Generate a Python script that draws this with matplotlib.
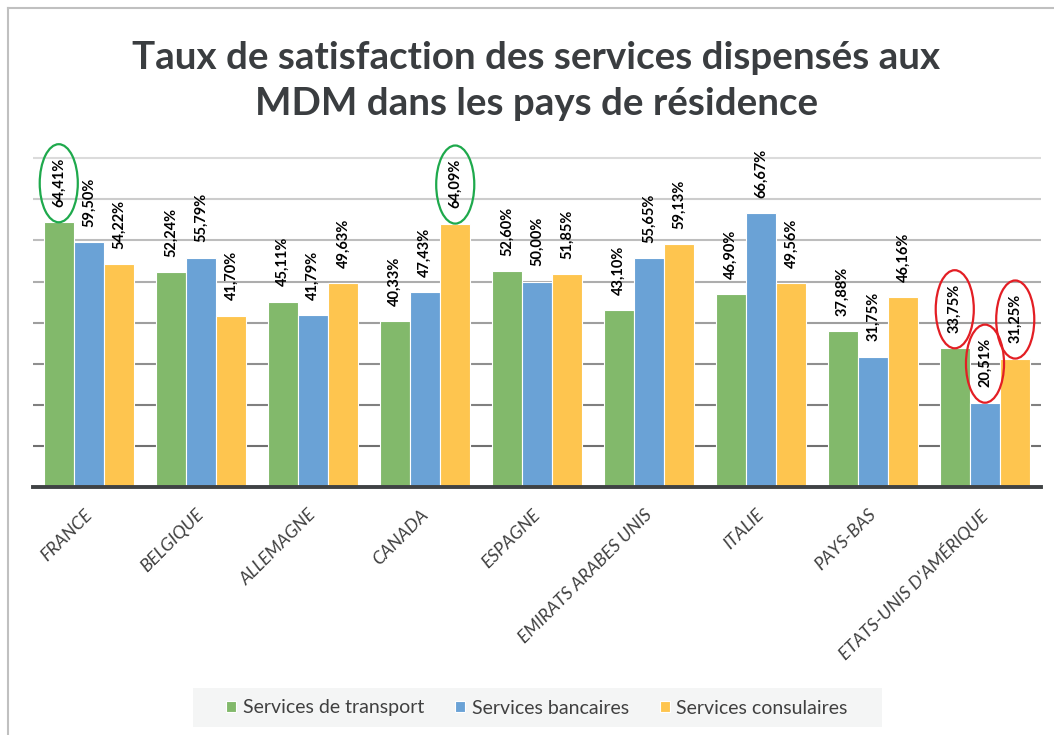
import matplotlib
matplotlib.use('Agg')
import matplotlib.pyplot as plt
from matplotlib.patches import Ellipse, Rectangle
from matplotlib.lines import Line2D
from matplotlib.transforms import ScaledTranslation
import numpy as np

# données
pays = ['FRANCE', 'BELGIQUE', 'ALLEMAGNE', 'CANADA', 'ESPAGNE',
        'EMIRATS ARABES UNIS', 'ITALIE', 'PAYS-BAS', "ETATS-UNIS D'AMÉRIQUE"]
transport = [64.41, 52.24, 45.11, 40.33, 52.60, 43.10, 46.90, 37.88, 33.75]
bancaires = [59.50, 55.79, 41.79, 47.43, 50.00, 55.65, 66.67, 31.75, 20.51]
consulaires = [54.22, 41.70, 49.63, 64.09, 51.85, 59.13, 49.56, 46.16, 31.25]
series = ['Services de transport', 'Services bancaires', 'Services consulaires']

# valeurs entourées (série, pays)
cercles_verts = [(0, 0), (2, 3)]
cercles_rouges = [(0, 8), (1, 8), (2, 8)]

couleurs = ['#82b96b', '#6aa2d6', '#fec54f']

plt.rcParams['font.family'] = ['Lato', 'DejaVu Sans']

fig = plt.figure(figsize=(10.54, 7.35), dpi=100)
ax = fig.add_axes([33 / 1054, 1 - 487 / 735, 1008 / 1054, 337 / 735])

x = np.arange(len(pays))
w = 0.27
donnees = [transport, bancaires, consulaires]

# lignes de quadrillage (plus foncées vers le bas)
for k, g in enumerate(range(10, 90, 10)):
    c = 0.44 + 0.42 * k / 7
    ax.axhline(g, color=(c, c, c), lw=1.5, zorder=0)

for i, vals in enumerate(donnees):
    xs = x + (i - 1) * w
    ax.bar(xs, vals, w, color=couleurs[i], edgecolor='white', linewidth=0.8,
           zorder=2, label=series[i])
    for a, b in zip(xs, vals):
        ax.annotate(('%.2f%%' % b).replace('.', ','), (a, b), xytext=(0, 11),
                    textcoords='offset points', rotation=90, ha='center',
                    va='bottom', fontsize=10.5, fontweight='bold', color='black')

for liste, col in [(cercles_verts, '#1ea94c'), (cercles_rouges, '#e31e24')]:
    for s, p in liste:
        v = donnees[s][p]
        e = Ellipse((p + (s - 1) * w, v + 9.5), 0.34, 19, fill=False,
                    edgecolor=col, lw=1.6, zorder=4, clip_on=False)
        ax.add_patch(e)

ax.set_xlim(-0.5, len(pays) - 0.5)
ax.set_ylim(0, 82)
ax.set_yticks([])
for s in ['top', 'right', 'left']:
    ax.spines[s].set_visible(False)
ax.spines['bottom'].set_color('#3f4244')
ax.spines['bottom'].set_linewidth(2.8)
ax.spines['bottom'].set_zorder(5)

ax.set_xticks(x)
ax.set_xticklabels(pays, rotation=45, ha='right', fontsize=13,
                   style='italic', color='#404040')
ax.tick_params(axis='x', length=0, pad=14)
for lbl in ax.get_xticklabels():
    lbl.set_transform(lbl.get_transform() + ScaledTranslation(0.06, 0, fig.dpi_scale_trans))

fig.text(0.509, 1 - 81 / 735, 'Taux de satisfaction des services dispensés aux\nMDM dans les pays de résidence',
         ha='center', va='center', fontsize=27.7, fontweight='bold', color='#3a3d40',
         linespacing=1.42)

# cadre
fig.add_artist(Line2D([8 / 1054, 1], [1 - 8 / 735, 1 - 8 / 735], color='#c0c0c0', lw=1.5))
fig.add_artist(Line2D([8 / 1054, 8 / 1054], [0, 1 - 8 / 735], color='#c0c0c0', lw=1.5))

# fond de la légende
fig.add_artist(Rectangle((193 / 1054, 8 / 735), 689 / 1054, 39 / 735,
                         transform=fig.transFigure, facecolor='#f4f5f5', edgecolor='none'))
leg = fig.legend(loc='center', ncol=3, bbox_to_anchor=(537 / 1054, 1 - 708 / 735),
                 frameon=False, fontsize=14, handlelength=0.5, handleheight=0.5,
                 handletextpad=0.35, columnspacing=1.6, labelcolor='#404040')

fig.savefig('out.png', dpi=100, facecolor='white')
